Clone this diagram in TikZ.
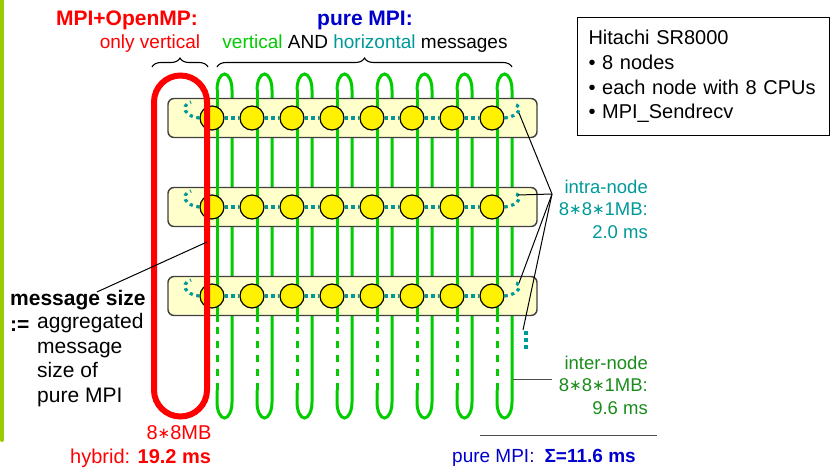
\documentclass[tikz,border=0pt]{standalone}
\usepackage{fontspec}
\setmainfont{Liberation Sans}
\newfontfamily\opsym{DejaVu Sans}
\newcommand\mult{\raisebox{1pt}{\fontsize{15}{15}\selectfont\opsym ∗}}
\usetikzlibrary{calc,decorations.pathreplacing}
\definecolor{loopgreen}{HTML}{00CC00}
\definecolor{msgteal}{HTML}{009999}
\definecolor{intergreen}{HTML}{1A8C1A}
\definecolor{mpiblue}{HTML}{0000CC}
\definecolor{boxfill}{HTML}{FFFFCC}
\definecolor{barlime}{HTML}{99CC00}
\begin{document}
\begin{tikzpicture}[x=1pt,y=-1pt,
	cpu/.style={circle,draw=black,line width=1.2pt,fill=yellow,minimum size=24pt,inner sep=0pt},
	smpbox/.style={rectangle,rounded corners=6pt,draw=black!75,line width=1.4pt,fill=boxfill,minimum width=369pt,minimum height=39pt},
	vertmsg/.style={draw=loopgreen,line width=3pt},
	horimsg/.style={draw=msgteal,line width=3.2pt,dash pattern=on 3.2pt off 3.6pt},
	leader/.style={draw=black,line width=1pt},
	lbl/.style={font=\fontsize{20}{24.6}\selectfont,inner sep=0pt},
	smalllbl/.style={font=\fontsize{18.5}{22.5}\selectfont,inner sep=0pt,align=right},
	titlelbl/.style={font=\fontsize{21}{25}\selectfont\bfseries,inner sep=0pt}]
	\useasboundingbox (0,0) rectangle (830,469);
	% Slide bar
	\draw[barlime,line width=4pt,line cap=round] (2,-5) -- (2,440);
	% Vertical messages (pure MPI)
	\foreach \i in {0,...,7} {
		\draw[vertmsg] (217+40*\i,90) arc[start angle=180,end angle=360,x radius=7.5,y radius=16]
			-- (232+40*\i,402) arc[start angle=0,end angle=180,x radius=7.5,y radius=16] -- (217+40*\i,390);
		\draw[vertmsg,dash pattern=on 7pt off 7pt] (217+40*\i,390) -- (217+40*\i,322);
	}
	% SMP nodes
	\foreach \r/\y in {1/118,2/207,3/296}
		\node[smpbox] (smp\r) at (352.5,\y) {};
	\foreach \i in {0,...,7}
		\draw[vertmsg] (217+40*\i,90) -- (217+40*\i,322);
	% CPUs
	\foreach \r/\y in {1/118,2/207,3/296} {
		\foreach \c in {1,...,8}
			\node[cpu] (cpu-\r-\c) at (172+40*\c,\y) {};
		\foreach \c [count=\n from 2] in {1,...,7}
			\draw[horimsg] (cpu-\r-\c.east) -- (cpu-\r-\n.west);
		\draw[horimsg] (cpu-\r-1.west) .. controls (186,\y-1) and (179,\y-12) .. (191,\y-16);
		\draw[horimsg] (cpu-\r-8.east) .. controls (518,\y-1) and (525,\y-12) .. (513,\y-14);
	}
	\draw[msgteal,line width=4pt,dash pattern=on 4pt off 3pt] (526,331) -- (526,350);
	% Hybrid message
	\draw[red,line width=6pt] (154,102) arc[start angle=180,end angle=360,radius=26.5]
		-- (207,390) arc[start angle=0,end angle=180,radius=26.5] -- cycle;
	% Titles and braces
	\node[titlelbl,text=red] (hybtitle) at (127,20) {MPI+OpenMP:};
	\node[lbl,text=red,font=\fontsize{19}{23}\selectfont] (hybsub) at (150,44) {only vertical};
	\node[titlelbl,text=mpiblue] (puretitle) at (365,20) {pure MPI:};
	\node[lbl,font=\fontsize{19}{23}\selectfont] (puresub) at (365,44)
		{\textcolor{loopgreen}{vertical} AND \textcolor{msgteal}{horizontal} messages};
	\draw[decorate,decoration={brace,amplitude=9pt},line width=1.1pt] (152,67) -- (208,67);
	\draw[decorate,decoration={brace,amplitude=9pt},line width=1.1pt] (217,67) -- (512,67);
	% Machine box
	\node[draw,line width=1pt,anchor=north west,minimum height=118pt,text width=230pt,
		inner xsep=11pt,align=left,font=\fontsize{20}{24.6}\selectfont] (machine) at (577,17)
		{Hitachi SR8000\\• 8 nodes\\• each node with 8 CPUs\\• MPI\_Sendrecv};
	% Message size
	\node[lbl,anchor=west,font=\fontsize{21}{25}\selectfont\bfseries] (msgsize) at (10,300) {message size};
	\node[lbl,anchor=west,font=\fontsize{21}{25}\selectfont\bfseries] (assign) at (10,326) {:=};
	\node[lbl,anchor=north west,align=left,font=\fontsize{21}{24.7}\selectfont] (aggr) at (37,313) {aggregated\\message\\size of\\pure MPI};
	\coordinate (redpt) at (207,242);
	\draw[leader] ($(msgsize.north)+(19,2)$) -- (redpt);
	% Intra-node
	\node[smalllbl,text=msgteal,anchor=east] (intra) at (648,209) {intra-node\\8\mult8\mult1MB:\\2.0 ms};
	\coordinate (fan) at ($(intra.east)+(-96,-15)$);
	\coordinate (dr1) at (519,113);
	\coordinate (dr2) at (518,195);
	\coordinate (dr3) at (519,283);
	\coordinate (vdots) at (523,330);
	\foreach \e in {dr1,dr2,dr3,vdots}
		\draw[leader] (fan) -- (\e);
	% Inter-node
	\node[smalllbl,text=intergreen,anchor=east] (inter) at (648,385) {inter-node\\8\mult8\mult1MB:\\9.6 ms};
	\coordinate (leg8) at (513,379);
	\draw[leader,draw=black!70] (leg8) -- ([xshift=-96pt]inter.east |- leg8);
	% Results
	\node[lbl,text=red] (hybsize) at (179,433) {8\mult8MB};
	\node[lbl,text=red,anchor=west] (hybtime) at (70,458) {hybrid: \textbf{19.2 ms}};
	\draw[leader,draw=black!70] (480,435) -- (657,435);
	\node[lbl,text=mpiblue,anchor=west,font=\fontsize{19}{23}\selectfont] (puretime) at (452,458)
		{pure MPI:\hspace{10pt}\textbf{Σ=11.6 ms}};
\end{tikzpicture}
\end{document}
